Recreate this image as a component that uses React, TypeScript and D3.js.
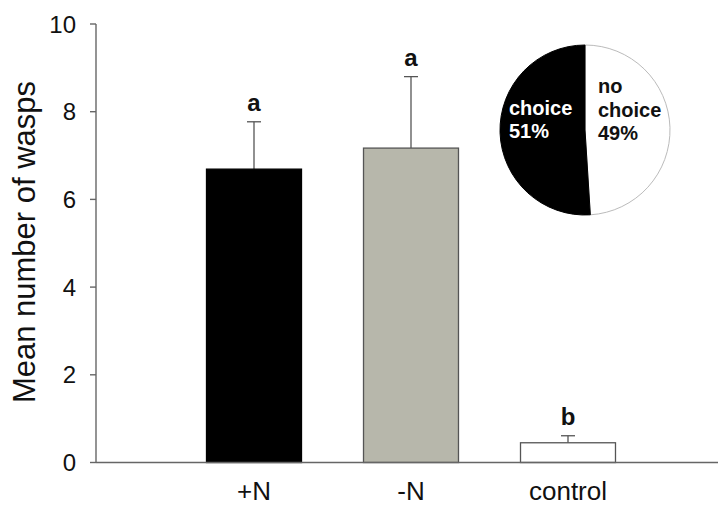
import React from "react";
import * as d3 from "d3";

// Bar chart data: mean number of wasps per treatment, with SE and letter groups
const categories = ["+N", "-N", "control"];
const means = [6.69, 7.17, 0.45];
const errors = [1.08, 1.63, 0.16];
const letters = ["a", "a", "b"];
const barFills = ["#000000", "#b7b7ab", "#ffffff"];
const yTicks = [0, 2, 4, 6, 8, 10];

// Inset pie: proportion of wasps making a choice
const pieLabels = ["no choice", "choice"];
const pieValues = [49, 51];
const pieFills = ["#ffffff", "#000000"];

const W = 718;
const H = 505;
const FONT = "'Liberation Sans', Arial, Helvetica, sans-serif";
const AXIS = "#666666";

export default function App() {
  const y = d3.scaleLinear().domain([0, 10]).range([462.5, 24]);
  const x = d3
    .scaleBand<string>()
    .domain(categories)
    .range([175.5, 646.5])
    .paddingInner(0.395)
    .paddingOuter(0.1975);
  const axisLeft = 96;

  // Pie: "no choice" on the right, "choice" on the left, starting at 12 o'clock
  const pieCx = 585;
  const pieCy = 130;
  const pieR = 85;
  const pie = d3
    .pie<number>()
    .sort(null)
    .startAngle(0)
    .endAngle(2 * Math.PI)(pieValues);
  const arc = d3.arc<d3.PieArcDatum<number>>().innerRadius(0).outerRadius(pieR);

  return (
    <svg
      width={W}
      height={H}
      style={{ position: "absolute", left: 0, top: 0, background: "#fff" }}
      fontFamily={FONT}
    >
      <rect x={0} y={0} width={W} height={H} fill="#fff" />

      {/* y axis */}
      <line x1={axisLeft} x2={axisLeft} y1={y(10)} y2={y(0)} stroke={AXIS} strokeWidth={1.4} />
      {yTicks.map((t) => (
        <g key={t}>
          <line x1={axisLeft - 6} x2={axisLeft} y1={y(t)} y2={y(t)} stroke={AXIS} strokeWidth={1.4} />
          <text x={76} y={y(t)} dy="0.36em" textAnchor="end" fontSize={24} fill="#111">
            {t}
          </text>
        </g>
      ))}
      <text
        transform={`translate(35,242) rotate(-90)`}
        textAnchor="middle"
        fontSize={31}
        fill="#111"
      >
        Mean number of wasps
      </text>

      {/* bars with error bars and group letters */}
      {categories.map((c, i) => {
        const bx = x(c)!;
        const bw = x.bandwidth();
        const cx = bx + bw / 2;
        const top = y(means[i]);
        const errTop = y(means[i] + errors[i]);
        return (
          <g key={c}>
            <line x1={cx} x2={cx} y1={top} y2={errTop} stroke="#555" strokeWidth={1.3} />
            <line x1={cx - 7} x2={cx + 7} y1={errTop} y2={errTop} stroke="#555" strokeWidth={1.3} />
            <rect
              x={bx}
              y={top}
              width={bw}
              height={y(0) - top}
              fill={barFills[i]}
              stroke={i === 0 ? "#000" : "#555"}
              strokeWidth={1.3}
            />
            <text x={cx} y={errTop - 11} textAnchor="middle" fontSize={24} fontWeight="bold" fill="#111">
              {letters[i]}
            </text>
            <text x={cx} y={500} textAnchor="middle" fontSize={26} fill="#111">
              {c}
            </text>
          </g>
        );
      })}

      {/* x axis */}
      <line x1={axisLeft} x2={W} y1={y(0)} y2={y(0)} stroke={AXIS} strokeWidth={1.4} />

      {/* inset pie */}
      <g transform={`translate(${pieCx},${pieCy})`}>
        {pie.map((d, i) => (
          <path key={pieLabels[i]} d={arc(d)!} fill={pieFills[i]} stroke={i === 0 ? "#bbbbbb" : "#000"} strokeWidth={1} />
        ))}
        <text x={-76} y={-15} fontSize={20} fontWeight="bold" fill="#fff">
          choice
        </text>
        <text x={-76} y={8} fontSize={20} fontWeight="bold" fill="#fff">
          {pieValues[1]}%
        </text>
        <text x={13} y={-37} fontSize={20} fontWeight="bold" fill="#111">
          no
        </text>
        <text x={13} y={-13} fontSize={20} fontWeight="bold" fill="#111">
          choice
        </text>
        <text x={13} y={10} fontSize={20} fontWeight="bold" fill="#111">
          {pieValues[0]}%
        </text>
      </g>
    </svg>
  );
}
